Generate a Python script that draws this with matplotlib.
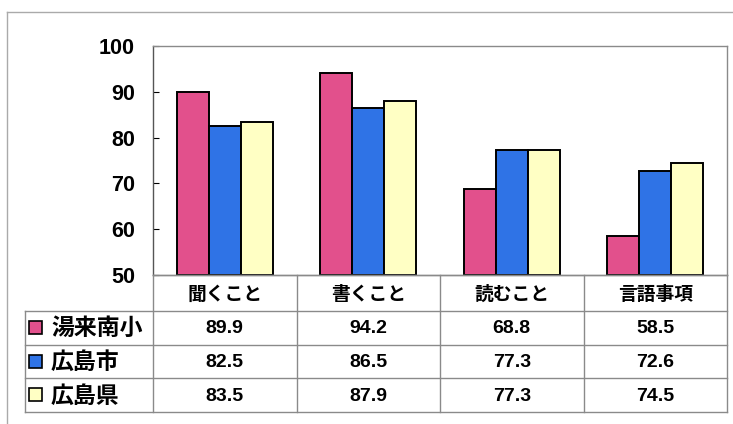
import matplotlib.pyplot as plt
import numpy as np
from matplotlib.lines import Line2D
from matplotlib.patches import Rectangle

plt.rcParams['font.family'] = ['Liberation Sans', 'Noto Sans CJK JP', 'DejaVu Sans']

categories = ["聞くこと", "書くこと", "読むこと", "言語事項"]
series = ["湯来南小", "広島市", "広島県"]
yunominami = [89.9, 94.2, 68.8, 58.5]
hiroshima_shi = [82.5, 86.5, 77.3, 72.6]
hiroshima_ken = [83.5, 87.9, 77.3, 74.5]
values = [yunominami, hiroshima_shi, hiroshima_ken]
colors = ["#E2508C", "#2F73E6", "#FFFFC4"]
yticks = [50, 60, 70, 80, 90, 100]

W, H = 733, 424
fig = plt.figure(figsize=(W / 100, H / 100), dpi=100)


def fx(x):
    return x / W


def fy(y):
    return 1 - y / H


def hline(x0, x1, y, color="#8a8a8a", lw=1.0):
    fig.add_artist(Line2D([fx(x0), fx(x1)], [fy(y), fy(y)], color=color, lw=lw,
                          transform=fig.transFigure))


def vline(x, y0, y1, color="#8a8a8a", lw=1.0):
    fig.add_artist(Line2D([fx(x), fx(x)], [fy(y0), fy(y1)], color=color, lw=lw,
                          transform=fig.transFigure))


# plot area
left, right, top, bottom = 153, 727, 46, 275
ax = fig.add_axes([fx(left), fy(bottom), fx(right - left), (bottom - top) / H])
n = len(categories)
x = np.arange(n)
bw = 1 / 4.5
for i, (vals, c) in enumerate(zip(values, colors)):
    ax.bar(x + (i - 1) * bw, np.array(vals) - 50, bw, bottom=50, color=c,
           edgecolor="black", linewidth=1.4)
ax.set_xlim(-0.5, n - 0.5)
ax.set_ylim(50, 100)
ax.set_yticks(yticks)
ax.set_xticks([])
ax.tick_params(axis="y", direction="in", length=4, pad=13, labelsize=15.5)
for lbl in ax.get_yticklabels():
    lbl.set_fontweight("bold")
for s in ax.spines.values():
    s.set_color("#8a8a8a")
    s.set_linewidth(1.0)
ax.spines["left"].set_color("#555555")

# outer frame
hline(7, W, 12, color="#aaaaaa")
vline(7, 12, H, color="#aaaaaa")

# data table
col_w = (right - left) / n
header_bot, row_h = 311, 33.7
tab_left = 25
tab_bot = header_bot + row_h * len(series)
for k in range(n + 1):
    vline(left + k * col_w, bottom, tab_bot)
vline(tab_left, header_bot, tab_bot)
hline(left, right, bottom)
for r in range(len(series) + 1):
    hline(tab_left, right, header_bot + r * row_h)

for k, cat in enumerate(categories):
    fig.text(fx(left + (k + 0.5) * col_w), fy((bottom + header_bot) / 2 + 1), cat,
             ha="center", va="center", fontsize=13.5, fontweight="bold",
             family=["Noto Sans CJK JP"])
for r, (name, vals, c) in enumerate(zip(series, values, colors)):
    yc = header_bot + (r + 0.5) * row_h
    fig.add_artist(Rectangle((fx(29), fy(yc + 6)), 13 / W, 13 / H, facecolor=c,
                             edgecolor="black", lw=1.2, transform=fig.transFigure))
    fig.text(fx(51), fy(yc + 1), name, ha="left", va="center", fontsize=16.5,
             fontweight="bold", family=["Noto Sans CJK JP"])
    for k, v in enumerate(vals):
        fig.text(fx(left + (k + 0.5) * col_w), fy(yc + 1), f"{v:.1f}",
                 ha="center", va="center", fontsize=14, fontweight="bold")

fig.savefig("out.png", dpi=100)
